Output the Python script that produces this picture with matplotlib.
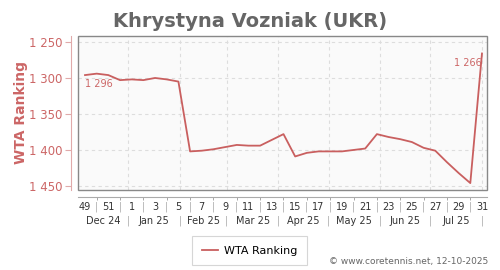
import matplotlib
matplotlib.use('Agg')
import matplotlib.pyplot as plt
import matplotlib.transforms as mtransforms
from matplotlib.patches import Rectangle
from datetime import date

# weekly WTA ranking, week 49/2024 .. week 31/2025
weeks = [49, 50, 51, 52] + list(range(1, 32))
ranking = [1296, 1294, 1296, 1303, 1302, 1303, 1300, 1302, 1305, 1402,
           1401, 1399, 1396, 1393, 1394, 1394, 1386, 1378, 1409, 1404,
           1402, 1402, 1402, 1400, 1398, 1378, 1382, 1385, 1389, 1397,
           1401, 1417, 1432, 1446, 1266]

months = ['Dec 24', 'Jan 25', 'Feb 25', 'Mar 25', 'Apr 25', 'May 25', 'Jun 25', 'Jul 25']
month_starts = [date(2025, m, 1) for m in range(1, 9)]
first_week_date = date(2024, 12, 6)

yticks = [1250, 1300, 1350, 1400, 1450]

red = '#cc6666'
line_red = '#c95f5f'

fig = plt.figure(figsize=(5, 2.7), dpi=100)
ax = fig.add_axes([0.156, 0.2963, 0.818, 0.5704])
ax.set_facecolor('#fafafa')

x = list(range(len(weeks)))
ax.plot(x, ranking, color=line_red, lw=1.3, label='WTA Ranking', zorder=3)

ax.set_xlim(-0.6, 34.43)
ax.set_ylim(1455.6, 1241.7)

# month boundaries in week units
bounds = [(d - first_week_date).days / 7 for d in month_starts]
for b in bounds:
    ax.axvline(b, color='#dddddd', lw=0.8, ls=(0, (3, 3)), zorder=1)

ax.set_yticks(yticks)
ax.set_yticklabels([f'{v:,}'.replace(',', ' ') for v in yticks])
ax.yaxis.grid(True, color='#dddddd', lw=0.8, ls=(0, (3, 3)), zorder=1)
ax.tick_params(axis='y', colors='#e0aaaa', labelcolor=red, labelsize=8.5, length=4, width=0.8, pad=2)

# week labels with separators
ax.set_xticks(x[::2])
ax.set_xticklabels([str(w) for w in weeks[::2]])
ax.set_xticks(x[1::2], minor=True)
ax.set_xticklabels(['|'] * len(x[1::2]), minor=True)
ax.tick_params(axis='x', which='major', length=0, labelsize=7, labelcolor='#333333', pad=3.5)
ax.tick_params(axis='x', which='minor', length=2, color='#999999', labelsize=7, labelcolor='#aaaaaa', pad=1.5)

for s in ['top', 'right']:
    ax.spines[s].set_visible(False)
ax.spines['left'].set_position(('outward', 5))
ax.spines['left'].set_color('#e0aaaa')
ax.spines['bottom'].set_position(('outward', 5))
ax.spines['bottom'].set_color('#aaaaaa')
ax.add_patch(Rectangle((0, 0), 1, 1, transform=ax.transAxes, fill=False,
                       edgecolor='#888888', lw=1, clip_on=False, zorder=4))

# month row
trans = mtransforms.blended_transform_factory(ax.transData, ax.transAxes)
edges = [ax.get_xlim()[0]] + bounds
for i, m in enumerate(months):
    ax.text((edges[i] + edges[i + 1]) / 2, -0.2, m, transform=trans,
            ha='center', va='center', fontsize=7, color='#333333')
for b in bounds:
    ax.text(b, -0.2, '|', transform=trans, ha='center', va='center',
            fontsize=7, color='#aaaaaa')

# first and last value
ax.annotate('1 296', (x[0], ranking[0]), xytext=(0, -9), textcoords='offset pixels',
            ha='left', va='center', fontsize=7, color=red)
ax.annotate('1 266', (x[-1], ranking[-1]), xytext=(0, -9.5), textcoords='offset pixels',
            ha='right', va='center', fontsize=7, color=red)

ax.set_ylabel('WTA Ranking', color=red, fontsize=10, fontweight='bold')
ax.yaxis.set_label_coords(-0.122, 0.5)
fig.suptitle('Khrystyna Vozniak (UKR)', x=0.5, y=0.955, fontsize=14,
             fontweight='bold', color='#666666')

leg = fig.legend(loc='center', bbox_to_anchor=(0.499, 0.072), fontsize=8,
                 frameon=True, fancybox=False, handlelength=1.5, borderpad=0.85,
                 handletextpad=0.5)
leg.get_frame().set_edgecolor('#cccccc')
leg.get_frame().set_linewidth(0.8)

fig.text(0.976, 0.03, '\u00a9 www.coretennis.net, 12-10-2025', ha='right', va='center',
         fontsize=6.5, color='#666666')

fig.savefig('out.png', dpi=100)
